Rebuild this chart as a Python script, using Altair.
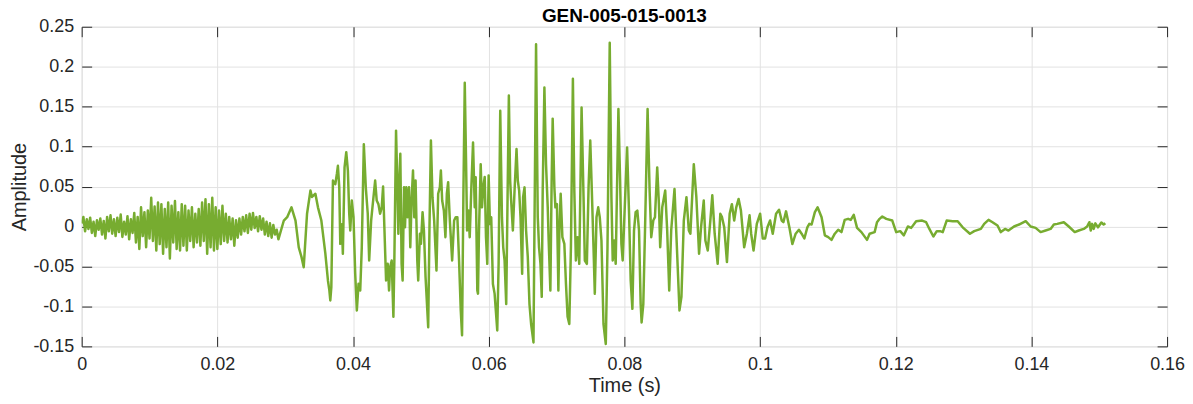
import altair as alt
import pandas as pd

GREEN = "#77AC30"
FONT = "Liberation Sans"

# ---- background noise, sampled every 0.25 ms from t = 0 ----
noise_step = 0.00025
noise_amp = [
    0.004, 0.012, -0.006, 0.009, -0.003, 0.011, -0.008,
    0.006, -0.012, 0.008, -0.004, 0.010, -0.010,
    0.007, -0.015, 0.012, -0.006, 0.014, -0.009, 0.009, -0.012,
    0.011, -0.007, 0.015, -0.013, 0.006, -0.010, 0.013, -0.016, 0.009, -0.008, 0.017,
    -0.020, 0.012, -0.028, 0.024, -0.012, 0.018, -0.026, 0.020, -0.015,
    0.036, -0.018, 0.025, -0.030, 0.030, -0.022, 0.028, -0.034, 0.022, -0.026,
    0.030, -0.040, 0.026, -0.020, 0.032, -0.028, 0.018, -0.030, 0.028, -0.024,
    0.026, -0.030, 0.020, -0.018, 0.024, -0.026, 0.016, -0.020, 0.022, -0.024,
    0.030, -0.018, 0.034, -0.034, 0.028, -0.026, 0.036, -0.030, 0.024, -0.028,
    0.020, -0.022, 0.026, -0.018, 0.016, -0.020, 0.012, -0.016, 0.010, -0.024,
    0.008, -0.014, 0.010, -0.010, 0.012, -0.006, 0.014, -0.008, 0.016, -0.004,
    0.017, -0.002, 0.012, -0.006, 0.013, -0.004, 0.010, -0.010, 0.006, -0.012,
    0.004, -0.014, 0.002, -0.010, -0.004, -0.016,
]

# ---- onset ----
onset_t = [
    0.02980, 0.03029, 0.03093, 0.03152, 0.03200, 0.03240, 0.03273, 0.03322, 0.03372, 0.03395,
    0.03445, 0.03483, 0.03533, 0.03592, 0.03630, 0.03651, 0.03665, 0.03680, 0.03704, 0.03739,
    0.03762, 0.03777, 0.03797, 0.03812, 0.03836, 0.03850, 0.03875, 0.03900, 0.03924, 0.03944,
    0.03959, 0.03982, 0.04007, 0.04032, 0.04056, 0.04081, 0.04106, 0.04129, 0.04159, 0.04188,
    0.04217, 0.04238, 0.04267, 0.04291, 0.04326, 0.04349,
]
onset_a = [
    0.0075, 0.0117, 0.024, 0.0075, -0.026, -0.038, -0.051, 0.016, 0.045, 0.037,
    0.041, 0.024, 0.0075, -0.034, -0.0675, -0.08, -0.0925, -0.076, 0.0575, 0.053,
    0.066, 0.076, 0.049, -0.0217, 0.003, -0.034, 0.074, 0.093, 0.07, 0.016,
    -0.005, 0.0325, 0.0117, -0.059, -0.105, -0.0717, -0.08, -0.026, 0.103, 0.049,
    0.016, -0.0425, 0.0075, 0.028, 0.0575, 0.0325,
]

# ---- burst, part A ----
burst_a_t = [
    0.04374, 0.04399, 0.04423, 0.04443, 0.04462, 0.04487, 0.04511, 0.04531, 0.04546, 0.04570,
    0.04595, 0.04609, 0.04634, 0.04653, 0.04668, 0.04683, 0.04697, 0.04716, 0.04731, 0.04752,
    0.04766, 0.04785, 0.04805, 0.04825, 0.04844, 0.04863, 0.04884, 0.04903, 0.04922, 0.04947,
    0.04961, 0.04986, 0.05001, 0.05025, 0.05045, 0.05069, 0.05108, 0.05127, 0.05148, 0.05171,
    0.05196, 0.05230, 0.05255, 0.05280, 0.05295, 0.05314, 0.05339, 0.05362, 0.05383, 0.05402,
    0.05427, 0.05461, 0.05490, 0.05515, 0.05538, 0.05563, 0.05588, 0.05607, 0.05627, 0.05647,
    0.05666, 0.05681, 0.05700, 0.05720, 0.05744, 0.05769, 0.05794, 0.05808, 0.05832,
]
burst_a_a = [
    0.028, 0.016, 0.024, 0.05, -0.001, -0.0675, -0.0467, -0.08, -0.051, -0.0425,
    -0.113, -0.0425, 0.12, 0.053, -0.009, 0.0575, 0.091, -0.0467, -0.0675, 0.049,
    -0.001, 0.049, 0.0117, 0.049, -0.026, 0.0325, 0.07, 0.0117, 0.0575, -0.0425,
    -0.0675, -0.009, -0.0217, 0.018, -0.005, -0.063, -0.126, -0.001, 0.1075, 0.0367,
    0.0075, -0.055, 0.041, 0.049, 0.07, 0.0325, 0.02, -0.0133, 0.041, 0.0555,
    0.0075, -0.0425, 0.0075, 0.0117, 0.0117, -0.0425, -0.105, -0.136, 0.041, 0.18,
    0.0825, -0.005, 0.02, -0.0133, 0.049, 0.105, 0.024, 0.0617, -0.08,
]

# ---- burst, part B ----
burst_b_t = [
    0.05842, 0.05857, 0.05882, 0.05901, 0.05920, 0.05941, 0.05960, 0.05979, 0.05999, 0.06018,
    0.06037, 0.06062, 0.06087, 0.06126, 0.06146, 0.06170, 0.06195, 0.06214, 0.06234, 0.06258,
    0.06278, 0.06297, 0.06316, 0.06331, 0.06356, 0.06381, 0.06410, 0.06429, 0.06449, 0.06469,
    0.06493, 0.06507, 0.06528, 0.06551, 0.06576, 0.06601, 0.06625, 0.06660, 0.06675, 0.06698,
    0.06723, 0.06742, 0.06763, 0.06782, 0.06796, 0.06821, 0.06845, 0.06870, 0.06884, 0.06909,
    0.06928, 0.06943, 0.06968, 0.06983, 0.07006, 0.07027, 0.07042, 0.07061, 0.07086, 0.07115,
    0.07139, 0.07163, 0.07188, 0.07212, 0.07241, 0.07262, 0.07285, 0.07310,
]
burst_b_a = [
    -0.084, -0.005, 0.078, 0.024, 0.049, 0.062, -0.0133, -0.0467, 0.064, 0.0033,
    0.0117, -0.072, -0.084, -0.13, -0.0467, 0.145, 0.0117, -0.026, -0.0425, -0.097,
    0.0367, 0.164, 0.0575, 0.0325, -0.005, 0.045, 0.097, 0.0575, 0.045, 0.0117,
    -0.059, 0.0367, 0.049, -0.005, -0.038, -0.097, -0.122, -0.145, 0.0033, 0.228,
    0.0117, -0.026, -0.0467, -0.088, 0.045, 0.174, 0.078, 0.024, -0.0175, -0.08,
    0.0575, 0.135, 0.049, 0.024, 0.028, -0.08, -0.005, 0.041, -0.0133, -0.0217,
    -0.072, -0.113, -0.122, -0.026, 0.185, 0.045, -0.0425, -0.0133,
]

# ---- burst, part C ----
burst_c_t = [
    0.07335, 0.07369, 0.07398, 0.07417, 0.07447, 0.07472, 0.07497, 0.07520, 0.07545, 0.07564,
    0.07589, 0.07614, 0.07637, 0.07662, 0.07692, 0.07726, 0.07751, 0.07784, 0.07809, 0.07828,
    0.07849, 0.07872, 0.07912, 0.07937, 0.07956, 0.07975, 0.07996, 0.08040, 0.08069, 0.08093,
    0.08118, 0.08142, 0.08166, 0.08191, 0.08216, 0.08240, 0.08254, 0.08279, 0.08304, 0.08342,
    0.08372, 0.08396, 0.08426, 0.08451, 0.08484, 0.08509, 0.08528, 0.08558, 0.08602, 0.08631,
    0.08661, 0.08690, 0.08739,
]
burst_c_a = [
    -0.0467, 0.149, 0.0367, -0.0425, -0.0467, 0.049, 0.1075, 0.045, -0.026, -0.084,
    0.0117, 0.024, 0.0117, -0.0175, -0.122, -0.147, -0.026, 0.23, 0.0367, -0.0425,
    -0.0175, -0.0467, 0.147, 0.0575, -0.0217, -0.0425, 0.0033, 0.099, 0.016, -0.0675,
    -0.103, -0.005, 0.018, 0.02, -0.005, -0.097, -0.12, -0.097, -0.005, 0.147,
    0.045, -0.0133, 0.0075, 0.0117, 0.074, 0.028, -0.026, 0.024, 0.045, -0.005,
    -0.08, -0.005, 0.047,
]

# ---- decay ----
decay_t = [
    0.08778, 0.08812, 0.08841, 0.08876, 0.08915, 0.08950, 0.08973, 0.09023, 0.09061, 0.09101,
    0.09130, 0.09170, 0.09194, 0.09229, 0.09267, 0.09296, 0.09331, 0.09375, 0.09414, 0.09439,
    0.09472, 0.09512, 0.09552, 0.09585, 0.09619, 0.09649, 0.09684, 0.09718, 0.09766, 0.09806,
    0.09845, 0.09869, 0.09904, 0.09952, 0.10001, 0.10040, 0.10074, 0.10109, 0.10148, 0.10187,
    0.10236, 0.10280, 0.10319, 0.10344, 0.10383, 0.10432, 0.10476, 0.10525, 0.10573, 0.10613,
    0.10653, 0.10697, 0.10726, 0.10760, 0.10808, 0.10848, 0.10907,
]
decay_a = [
    -0.034, -0.105, -0.088, 0.0075, 0.0367, -0.005, -0.009, 0.078, 0.0367, -0.034,
    -0.001, 0.0325, -0.0175, -0.03, 0.0075, 0.039, -0.009, -0.0467, 0.016, 0.0117,
    -0.001, -0.0445, 0.016, 0.028, 0.0075, 0.024, 0.0345, 0.02, -0.026, -0.009,
    0.014, -0.009, -0.03, 0.0033, 0.016, -0.015, -0.015, -0.001, 0.0075, -0.009,
    0.016, 0.021, 0.0075, 0.0054, 0.019, -0.001, -0.022, -0.009, -0.004, -0.009,
    -0.015, -0.001, 0.0033, 0.0025, 0.018, 0.024, 0.0117,
]

# ---- tail ----
tail_t = [
    0.10955, 0.11005, 0.11053, 0.11102, 0.11152, 0.11200, 0.11248, 0.11298, 0.11337, 0.11381,
    0.11430, 0.11494, 0.11577, 0.11615, 0.11689, 0.11724, 0.11762, 0.11802, 0.11861, 0.11949,
    0.12007, 0.12066, 0.12120, 0.12179, 0.12228, 0.12301, 0.12389, 0.12448, 0.12496, 0.12555,
    0.12605, 0.12653, 0.12693, 0.12751, 0.12840, 0.12913, 0.12987, 0.13094, 0.13157, 0.13255,
    0.13304, 0.13368, 0.13427, 0.13500, 0.13549, 0.13612, 0.13662, 0.13744, 0.13817, 0.13916,
    0.13989, 0.14062, 0.14136, 0.14209, 0.14283, 0.14331, 0.14381, 0.14478, 0.14551, 0.14639,
    0.14698, 0.14772, 0.14821, 0.14855, 0.14875, 0.14895, 0.14918, 0.14943, 0.14982, 0.15031,
    0.15065, 0.15090,
]
tail_a = [
    -0.011, -0.0133, -0.0167, -0.009, -0.004, -0.007, 0.0083, 0.0096, 0.0083, 0.0146,
    -0.0017, -0.007, -0.0167, -0.009, -0.007, 0.0054, 0.0096, 0.0125, 0.0096, 0.0075,
    -0.007, -0.0058, -0.011, 0.0, -0.0017, 0.0067, 0.0075, 0.0054, -0.003, -0.0125,
    -0.0058, -0.0058, -0.007, 0.0075, 0.0067, 0.0067, -0.001, -0.009, -0.0058, -0.003,
    0.0033, 0.0083, 0.0054, 0.0013, -0.007, -0.003, -0.005, 0.0, 0.0025, 0.0067,
    0.0, -0.0017, -0.007, -0.005, -0.003, 0.0025, 0.0033, 0.0054, 0.0, -0.007,
    -0.005, -0.003, 0.0, 0.0054, -0.005, 0.0033, -0.003, 0.004, -0.001, 0.005,
    0.0025, 0.004,
]

x_ticks = [0, 0.02, 0.04, 0.06, 0.08, 0.1, 0.12, 0.14, 0.16]
y_ticks = [-0.15, -0.1, -0.05, 0, 0.05, 0.1, 0.15, 0.2, 0.25]

noise_t = [round(i * noise_step, 6) for i in range(len(noise_amp))]
times = noise_t + onset_t + burst_a_t + burst_b_t + burst_c_t + decay_t + tail_t
amps = noise_amp + onset_a + burst_a_a + burst_b_a + burst_c_a + decay_a + tail_a
n = min(len(times), len(amps))
df = pd.DataFrame({"t": times[:n], "a": amps[:n]})

xs = alt.Scale(domain=[0, 0.16], nice=False, zero=False)
ys = alt.Scale(domain=[-0.15, 0.25], nice=False, zero=False)
TICK = "#262626"
LBL = "#262626"

base = alt.Chart(df)

# grid + visible waveform
wave = base.mark_line(color=GREEN, strokeWidth=2.5, clip=True, strokeJoin="round").encode(
    x=alt.X("t:Q", scale=xs, axis=alt.Axis(orient="bottom", values=x_ticks, grid=True,
            gridColor="#e2e2e2", gridWidth=1, labels=False, ticks=False, domain=False, title=None)),
    y=alt.Y("a:Q", scale=ys, axis=alt.Axis(orient="left", values=y_ticks, grid=True,
            gridColor="#e2e2e2", gridWidth=1, labels=False, ticks=False, domain=False, title=None)),
)

# bottom / left axes with inward ticks and labels
lab = base.mark_line(strokeOpacity=0).encode(
    x=alt.X("t:Q", scale=xs, axis=alt.Axis(
        orient="bottom", values=x_ticks, grid=False, domain=False, offset=-10, tickSize=10,
        tickColor=TICK, tickWidth=1, labelPadding=9, labelFlush=False, labelFont=FONT,
        labelFontSize=18, labelColor=LBL, labelExpr="toString(datum.value)", title="Time (s)",
        titleFont=FONT, titleFontSize=20, titleFontWeight="normal", titleColor=LBL,
        titlePadding=2)),
    y=alt.Y("a:Q", scale=ys, axis=alt.Axis(
        orient="left", values=y_ticks, grid=False, domain=False, offset=-10, tickSize=10,
        tickColor=TICK, tickWidth=1, labelPadding=8, labelFlush=False, labelFont=FONT,
        labelFontSize=18, labelColor=LBL, labelExpr="toString(datum.value)", title="Amplitude",
        titleFont=FONT, titleFontSize=20, titleFontWeight="normal", titleColor=LBL,
        titlePadding=3)),
)

# top / right axes with inward ticks only
box = base.mark_line(strokeOpacity=0).encode(
    x=alt.X("t:Q", scale=xs, axis=alt.Axis(
        orient="top", values=x_ticks, grid=False, domain=False, offset=-10, tickSize=10,
        tickColor=TICK, tickWidth=1, labels=False, title=None)),
    y=alt.Y("a:Q", scale=ys, axis=alt.Axis(
        orient="right", values=y_ticks, grid=False, domain=False, offset=-10, tickSize=10,
        tickColor=TICK, tickWidth=1, labels=False, title=None)),
)

chart = alt.layer(wave, lab, box).resolve_axis(
    x="independent", y="independent"
).properties(
    width=1090,
    height=321,
    autosize=alt.AutoSizeParams(type="none"),
    padding={"left": 74, "top": 18, "right": 18, "bottom": 49},
    title=alt.TitleParams("GEN-005-015-0013", font=FONT, fontSize=19, fontWeight="bold",
                          color="#000000", anchor="middle", baseline="alphabetic", offset=-23),
).configure_view(
    stroke="#8a8a8a", strokeWidth=1
).configure(background="white")

chart.save("out.html", embed_options={"renderer": "svg", "actions": False})
